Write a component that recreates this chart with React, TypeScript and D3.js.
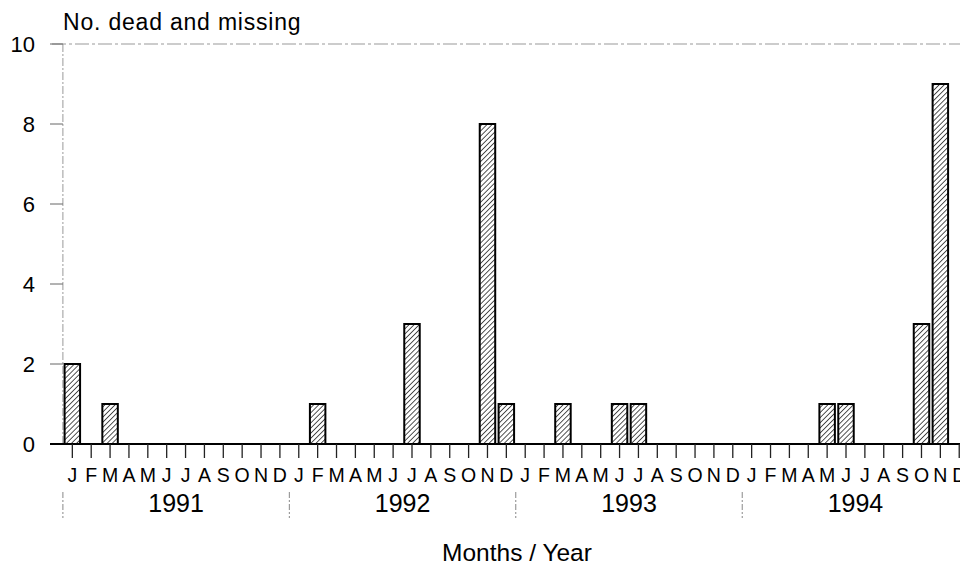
import React from 'react';
import * as d3 from 'd3';

// dead and missing per month, 1991-1994
const years = ['1991', '1992', '1993', '1994'];
const monthLetters = ['J', 'F', 'M', 'A', 'M', 'J', 'J', 'A', 'S', 'O', 'N', 'D'];
const values1991 = [2, 0, 1, 0, 0, 0, 0, 0, 0, 0, 0, 0];
const values1992 = [0, 1, 0, 0, 0, 0, 3, 0, 0, 0, 8, 1];
const values1993 = [0, 0, 1, 0, 0, 1, 1, 0, 0, 0, 0, 0];
const values1994 = [0, 0, 0, 0, 1, 1, 0, 0, 0, 3, 9, 0];
const yTicks = [0, 2, 4, 6, 8, 10];

const WIDTH = 960;
const HEIGHT = 565;
const FONT = "'Liberation Sans', Arial, sans-serif";

interface Month {
    key: string;
    letter: string;
    year: string;
    value: number;
}

const seriesByYear = [values1991, values1992, values1993, values1994];
const months: Month[] = years.flatMap((yr, yi) =>
    monthLetters.map((m, mi) => ({
        key: `${yr}-${mi}`,
        letter: m,
        year: yr,
        value: seriesByYear[yi][mi],
    }))
);

export default function App() {
    const x0 = 62.9;
    const step = 18.87;
    const x = d3.scaleBand()
        .domain(months.map(d => d.key))
        .range([x0, x0 + step * months.length])
        .paddingInner(0.18)
        .paddingOuter(0.09);
    const y = d3.scaleLinear().domain([0, 10]).range([444, 44]);

    const yearStart = (yi: number) => x(months[yi * 12].key)! - x.step() * 0.09;
    const center = (k: string) => x(k)! + x.bandwidth() / 2;

    return (
        <svg width={WIDTH} height={HEIGHT}
            style={{ position: 'absolute', left: 0, top: 0, background: '#fff' }}
            fontFamily={FONT}>
            <defs>
                <pattern id="hatch" width="3.6" height="3.6" patternUnits="userSpaceOnUse"
                    patternTransform="rotate(45)">
                    <rect width="3.6" height="3.6" fill="#fff" />
                    <line x1="0" y1="0" x2="0" y2="3.6" stroke="#1a1a1a" strokeWidth="1.5" />
                </pattern>
            </defs>

            {/* frame top and y axis */}
            <line x1={52} x2={WIDTH} y1={y(10)} y2={y(10)} stroke="#999" strokeWidth={1}
                strokeDasharray="14 3 3 3" />
            <line x1={x0} x2={x0} y1={y(10)} y2={y(0)} stroke="#999" strokeWidth={1}
                strokeDasharray="8 2 2 2" />

            {yTicks.map(t => (
                <g key={t}>
                    <line x1={50} x2={x0} y1={y(t)} y2={y(t)} stroke="#666" strokeWidth={1} />
                    <text x={35} y={y(t)} dy="0.36em" textAnchor="end" fontSize={22} fill="#000">{t}</text>
                </g>
            ))}

            <text x={63} y={30} fontSize={23} fill="#000" letterSpacing="0.8">No. dead and missing</text>

            {/* bars */}
            {months.filter(d => d.value > 0).map(d => (
                <rect key={d.key}
                    x={x(d.key)!}
                    y={y(d.value)}
                    width={x.bandwidth()}
                    height={y(0) - y(d.value)}
                    fill="url(#hatch)"
                    stroke="#000"
                    strokeWidth={2} />
            ))}

            {/* x axis */}
            <line x1={50} x2={WIDTH} y1={y(0)} y2={y(0)} stroke="#000" strokeWidth={2} />
            {months.map(d => (
                <g key={d.key}>
                    <line x1={center(d.key)} x2={center(d.key)} y1={y(0)} y2={y(0) + 14}
                        stroke="#222" strokeWidth={1.3} />
                    <text x={center(d.key)} y={482} textAnchor="middle" fontSize={19.5} fill="#000">{d.letter}</text>
                </g>
            ))}

            {years.map((yr, yi) => {
                const a = yearStart(yi);
                const b = a + x.step() * 12;
                return (
                    <g key={yr}>
                        <line x1={a} x2={a} y1={492} y2={518} stroke="#888" strokeWidth={1}
                            strokeDasharray="6 2 2 2" />
                        <text x={(a + b) / 2} y={512} textAnchor="middle" fontSize={25} fill="#000">{yr}</text>
                    </g>
                );
            })}

            <text x={517} y={561} textAnchor="middle" fontSize={24.5} fill="#000">Months / Year</text>
        </svg>
    );
}
